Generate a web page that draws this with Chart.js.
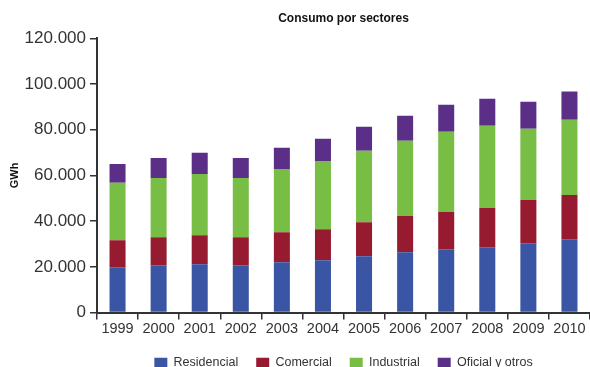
<!DOCTYPE html>
<html>
<head>
<meta charset="utf-8">
<script src="https://cdn.jsdelivr.net/npm/chart.js@4"></script>
<style>
  html, body { margin: 0; padding: 0; background: #fff; }
  #wrap { width: 590px; height: 367px; }
</style>
</head>
<body>
<div id="wrap"><canvas id="consumo"></canvas></div>
<script>
// consumo electrico por sectores, GWh
var years = ['1999', '2000', '2001', '2002', '2003', '2004', '2005', '2006', '2007', '2008', '2009', '2010'];
var residencial = [19800, 20700, 21100, 20700, 22000, 22900, 24600, 26400, 27700, 28600, 30300, 32100];
var comercial = [11850, 12270, 12750, 12270, 13160, 13580, 14960, 15800, 16260, 17110, 18930, 19330];
var industrial = [25190, 25930, 26810, 25930, 27700, 29890, 31210, 32970, 35160, 36050, 31210, 32970];
var oficial = [8210, 8790, 9230, 8790, 9230, 9670, 10550, 10980, 11870, 11870, 11870, 12300];
var yTicks = [0, 20000, 40000, 60000, 80000, 100000, 120000];

var FONT = "'Liberation Sans', Arial, sans-serif";
var AXIS = '#333';

function miles(v) {
    return v.toString().replace(/\B(?=(\d{3})+(?!\d))/g, '.');
}

function serie(label, data, color) {
    return {
        label: label,
        data: data,
        backgroundColor: color,
        borderWidth: 0,
        categoryPercentage: 1,
        barPercentage: 0.39
    };
}

new Chart(document.getElementById('consumo'), {
    type: 'bar',
    data: {
        labels: years,
        datasets: [
            serie('Residencial', residencial, '#3A55A4'),
            serie('Comercial', comercial, '#961B30'),
            serie('Industrial', industrial, '#78BE45'),
            serie('Oficial y otros', oficial, '#5B2F87')
        ]
    },
    options: {
        responsive: true,
        maintainAspectRatio: false,
        animation: false,
        layout: { padding: { left: 0, right: 0, top: 0, bottom: -12 } },
        plugins: {
            title: {
                display: true,
                text: 'Consumo por sectores',
                fullSize: false,
                color: '#111',
                font: { family: FONT, size: 12, weight: 'bold' },
                padding: { top: 11, bottom: 13 }
            },
            legend: {
                position: 'bottom',
                fullSize: false,
                labels: {
                    boxWidth: 13,
                    boxHeight: 10,
                    padding: 18,
                    color: AXIS,
                    font: { family: FONT, size: 12.5 }
                }
            },
            tooltip: { enabled: false }
        },
        scales: {
            x: {
                stacked: true,
                afterFit: function (scale) {
                    scale.height = 26;
                },
                grid: {
                    offset: true,
                    drawOnChartArea: false,
                    drawTicks: true,
                    tickLength: 7,
                    color: AXIS,
                    lineWidth: 1.5
                },
                border: { color: AXIS, width: 2 },
                ticks: {
                    color: AXIS,
                    padding: 1,
                    maxRotation: 0,
                    font: { family: FONT, size: 14.5 }
                }
            },
            y: {
                stacked: true,
                min: 0,
                max: 120000,
                afterBuildTicks: function (scale) {
                    scale.ticks = yTicks.map(function (v) { return { value: v }; });
                },
                afterFit: function (scale) {
                    scale.width = 97;
                },
                grid: {
                    drawOnChartArea: false,
                    drawTicks: true,
                    tickLength: 7,
                    color: AXIS,
                    lineWidth: 1.5
                },
                border: { color: AXIS, width: 2 },
                ticks: {
                    color: AXIS,
                    padding: 4,
                    font: { family: FONT, size: 17 },
                    callback: function (v) { return miles(v); }
                },
                title: {
                    display: true,
                    text: 'GWh',
                    color: '#111',
                    font: { family: FONT, size: 11, weight: 'bold' },
                    padding: { top: 8, bottom: 0 }
                }
            }
        }
    }
});
</script>
</body>
</html>
